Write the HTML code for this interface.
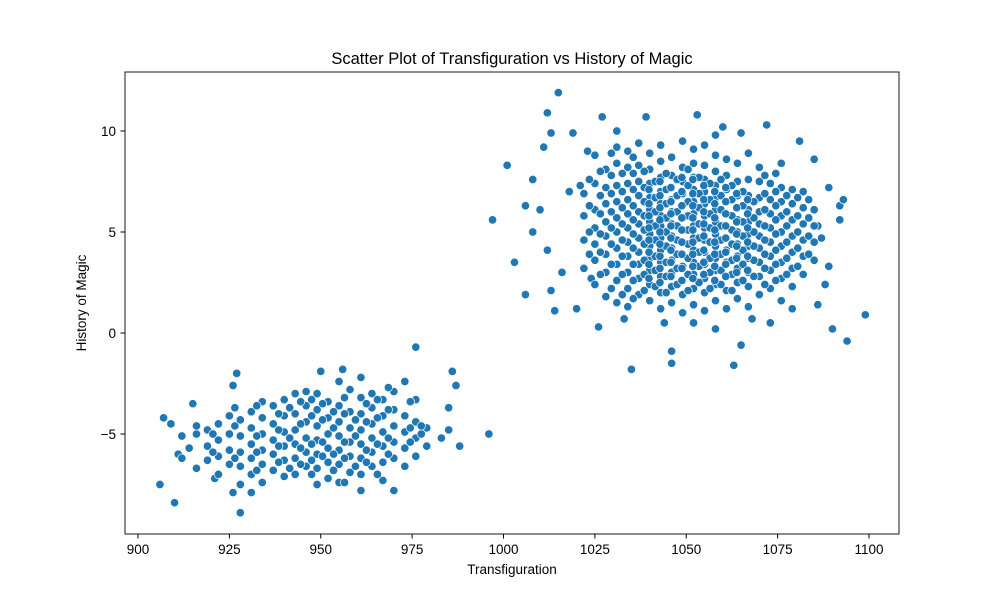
<!DOCTYPE html>
<html><head><meta charset="utf-8"><style>
body{margin:0;background:#fff;}
svg text{font-family:"Liberation Sans","DejaVu Sans",sans-serif;fill:#000;}
</style></head><body>
<svg id="chart" width="1000" height="600" xmlns="http://www.w3.org/2000/svg">
<rect width="1000" height="600" fill="#fff"/>
<text x="512" y="64" font-size="16.5" text-anchor="middle">Scatter Plot of Transfiguration vs History of Magic</text>
<g id="marks"></g>
<rect x="125" y="72" width="774" height="462" fill="none" stroke="#000" stroke-width="0.9"/>
<g id="xticks"></g>
<g id="yticks"></g>
<text x="512" y="574" font-size="13.5" text-anchor="middle">Transfiguration</text>
<text transform="translate(86,303) rotate(-90)" font-size="13.5" text-anchor="middle">History of Magic</text>
</svg>
<script>
const xTickValues=[900,925,950,975,1000,1025,1050,1075,1100];
const yTickValues=[-5,0,5,10];
const yTickLabels=["\u22125","0","5","10"];
const outlierPoints=[[1001,8.3],[997,5.6],[1003,3.5],[1006,1.9],[1010,6.1],[1012,10.9],[1013,9.9],[1015,11.9],[1011,9.2],[1019,9.9],[1020,1.2],[1026,0.3],[1027,10.7],[1035,-1.8],[1046,-0.9],[1046,-1.5],[1063,-1.6],[1065,-0.6],[1072,10.3],[1094,-0.4],[1099,0.9],[1090,0.2],[1089,7.2],[1092,6.3],[1093,6.6],[1085,8.6],[1081,9.5],[1053,10.8],[1039,10.7],[1031,10],[1060,10.2],[1058,9.8],[1065,9.9],[1013,2.1],[1014,1.1],[1024,2.7],[1033,0.7],[1044,0.5],[1052,0.5],[1058,0.2],[1068,0.7],[1073,0.5],[1079,1.2],[1086,1.4],[1088,2.4],[1089,3.3],[1087,4.7],[1086,5.3],[1092,5.6],[1008,5.0],[1012,4.1],[1016,3.0],[1018,7.0],[1021,7.3],[1008,7.6],[1023,9.0],[1006,6.3],
[906,-7.5],[907,-4.2],[910,-8.4],[909,-4.5],[911,-6],[928,-8.9],[927,-2],[926,-2.6],[976,-0.7],[986,-1.9],[987,-2.6],[996,-5],[988,-5.6],[983,-5.2],[956,-1.8],[950,-1.9],[961,-7.8],[970,-7.8],[915,-3.5],[921,-7.2],[926,-7.9],[931,-7.9]];
const upperColumnsX=[1022,1025,1028,1031,1034,1037,1040,1043,1046,1049,1052,1055,1058,1061,1064,1067,1070,1073,1076,1079,1082,1085,1038.5,1041.5,1044.5,1047.5,1050.5,1053.5,1056.5,1059.5,1062.5,1065.5,1068.5];
const upperColumnsY=[[3.2,4.6,5.8,6.9],[2.4,3.6,4.4,5.2,6.1,7.4,8.8],[1.8,3.0,3.9,4.8,5.5,6.4,7.2,8.1],[1.5,2.6,3.4,4.2,5.0,5.7,6.5,7.3,8.4,9.2],[1.3,2.2,3.0,3.8,4.5,5.2,5.9,6.6,7.4,8.2,9.0],[1.9,2.7,3.4,4.0,4.7,5.4,6.0,6.8,7.5,8.3,9.4],[1.6,2.4,3.1,3.7,4.3,4.9,5.5,6.1,6.7,7.4,8.1,8.9],[1.2,2.0,2.8,3.5,4.1,4.7,5.3,5.8,6.4,7.0,7.7,8.5,9.3],[1.5,2.3,3.0,3.6,4.2,4.8,5.4,6.0,6.6,7.2,7.8,8.7],[1.0,1.9,2.6,3.3,3.9,4.5,5.1,5.7,6.3,6.9,7.5,8.2,9.5],[1.4,2.2,2.9,3.5,4.1,4.7,5.3,5.9,6.5,7.1,7.7,8.4,9.1],[1.1,2.0,2.7,3.4,4.0,4.6,5.2,5.8,6.4,7.0,7.6,8.3,9.3],[1.6,2.4,3.1,3.7,4.3,4.9,5.5,6.1,6.7,7.3,8.0,8.8],[1.2,2.1,2.8,3.5,4.1,4.7,5.3,5.9,6.5,7.1,7.8,8.6],[1.7,2.5,3.2,3.8,4.4,5.0,5.6,6.2,6.8,7.5,8.4],[1.3,2.3,3.0,3.7,4.3,4.9,5.5,6.1,6.8,7.6,8.9],[1.9,2.8,3.5,4.2,4.8,5.4,6.0,6.7,7.5,8.2],[2.2,3.1,3.8,4.5,5.2,5.9,6.6,7.4],[1.6,2.7,3.5,4.3,5.0,5.8,6.5,7.2,8.4],[2.3,3.2,4.0,4.8,5.6,6.4,7.1],[2.9,3.8,4.6,5.4,6.2,7.0],[3.6,4.5,5.3,6.1],
[2.1,2.9,3.6,4.4,5.1,5.8,6.5,7.2,8.0],[2.3,3.1,3.8,4.6,5.3,6.0,6.7,7.5],[2.0,2.8,3.5,4.3,5.0,5.7,6.4,7.1,7.9],[2.4,3.2,3.9,4.6,5.3,6.0,6.8,7.6],[2.1,2.9,3.7,4.4,5.1,5.8,6.5,7.3,8.1],[2.5,3.3,4.0,4.7,5.4,6.2,6.9,7.7],[2.2,3.0,3.7,4.5,5.2,5.9,6.6,7.4],[2.4,3.1,3.9,4.6,5.3,6.1,6.8,7.6],[2.1,2.9,3.6,4.4,5.1,5.8,6.6,7.3],[2.6,3.4,4.1,4.8,5.5,6.3,7.0],[2.8,3.6,4.3,5.0,5.7,6.5]];
const upperExtraX=[1023.5,1026.5,1029.5,1032.5,1035.5,1071.5,1074.5,1077.5,1080.5,1083.5,1039.8,1042.8,1045.8,1048.8,1051.8,1054.8,1057.8,1060.8,1063.8,1066.8];
const upperExtraY=[[3.9,5.0,6.3,7.6],[2.9,4.0,4.9,5.9,6.8,8.0],[2.2,3.4,4.4,5.2,6.0,6.9,7.8,8.9],[1.9,2.9,3.8,4.6,5.4,6.2,7.0,7.9],[1.7,2.6,3.4,4.2,4.9,5.6,6.3,7.1,7.9,8.7],[2.4,3.2,3.9,4.6,5.3,6.1,6.9,7.8],[2.6,3.4,4.1,4.9,5.6,6.3,7.0,7.9],[2.9,3.7,4.5,5.3,6.0,6.8],[3.3,4.2,5.0,5.8,6.7],[3.9,4.8,5.7,6.6],
[2.7,3.4,4.0,4.6,5.2,5.8,6.4,7.1],[2.5,3.2,3.8,4.4,5.0,5.6,6.2,6.8,7.5],[2.8,3.5,4.1,4.7,5.3,5.9,6.5,7.2],[2.6,3.2,3.9,4.5,5.1,5.7,6.3,7.0,7.7],[2.7,3.3,3.9,4.5,5.1,5.7,6.3,6.9,7.6],[2.9,3.5,4.1,4.8,5.4,6.0,6.6,7.3],[2.6,3.3,3.9,4.5,5.1,5.7,6.4,7.0],[2.8,3.4,4.0,4.7,5.3,5.9,6.5,7.2],[3.0,3.7,4.3,4.9,5.5,6.2,6.9],[3.1,3.8,4.5,5.2,5.9,6.6]];
const lowerColumnsX=[912,916,919,922,925,928,931,934,937,940,943,946,949,952,955,958,961,964,967,970,973,976,979,985];
const lowerColumnsY=[[-6.2,-5.1],[-6.7,-5.0,-4.6],[-6.3,-5.6,-4.8],[-7.0,-6.1,-5.3,-4.5],[-6.5,-5.8,-5.0,-4.1],[-7.5,-6.6,-5.9,-5.1,-4.3],[-7.0,-6.2,-5.5,-4.7,-3.9],[-7.4,-6.5,-5.8,-5.0,-4.2,-3.4],[-6.8,-6.0,-5.3,-4.5,-3.6],[-7.1,-6.3,-5.6,-4.9,-4.1,-3.3],[-7.0,-6.2,-5.5,-4.8,-4.0,-3.0],[-6.6,-5.9,-5.2,-4.4,-3.6,-2.9],[-7.5,-6.7,-6.0,-5.3,-4.6,-3.8,-3.0],[-7.2,-6.4,-5.7,-5.0,-4.2,-3.4],[-7.4,-6.5,-5.8,-5.1,-4.4,-3.6,-2.4],[-6.9,-6.1,-5.4,-4.7,-3.9,-2.8],[-7.0,-6.2,-5.5,-4.8,-4.0,-3.2,-2.2],[-6.6,-5.9,-5.2,-4.5,-3.7,-3.0],[-7.3,-6.4,-5.6,-4.9,-4.1,-3.3],[-6.2,-5.4,-4.6,-3.8,-2.9],[-6.6,-5.7,-4.9,-4.1,-2.4],[-6.1,-5.2,-4.4,-3.3],[-5.6,-4.7],[-4.8,-3.7]];
const lowerExtraX=[914,920.5,926.5,932.5,938.5,941.5,944.5,947.5,950.5,953.5,956.5,959.5,962.5,965.5,968.5,974.5,977.5];
const lowerExtraY=[[-5.7],[-5.9,-5.0],[-6.2,-4.6,-3.7],[-6.8,-5.9,-5.1,-3.6],[-6.4,-5.6,-4.8,-4.0],[-6.7,-5.2,-3.7],[-6.5,-5.7,-4.5,-3.4],[-7.0,-6.3,-5.5,-4.1,-3.3],[-6.1,-5.4,-4.3,-3.5],[-6.8,-6.0,-4.7,-3.9],[-7.4,-6.2,-5.4,-4.0,-3.2],[-6.6,-5.1,-4.3],[-6.4,-5.8,-4.4,-3.5],[-7.0,-5.5,-4.2,-3.3],[-6.0,-5.2,-3.8,-2.7],[-5.4,-4.7,-3.4],[-5.0,-4.6]];

const NS="http://www.w3.org/2000/svg";
function xScale(v){return 138+(v-900)*(731/200);}
function yScale(v){return 333-v*20.2;}
const marks=document.getElementById('marks');
function dot(x,y){
  const c=document.createElementNS(NS,'circle');
  c.setAttribute('cx',xScale(x));c.setAttribute('cy',yScale(y));
  c.setAttribute('r',4.2);c.setAttribute('fill','#1f77b4');
  c.setAttribute('stroke','#fff');c.setAttribute('stroke-width','0.7');
  
  
  marks.appendChild(c);
}
outlierPoints.forEach(p=>dot(p[0],p[1]));
upperColumnsX.forEach((x,i)=>upperColumnsY[i].forEach(y=>dot(x,y)));
upperExtraX.forEach((x,i)=>upperExtraY[i].forEach(y=>dot(x,y)));
lowerColumnsX.forEach((x,i)=>lowerColumnsY[i].forEach(y=>dot(x,y)));
lowerExtraX.forEach((x,i)=>lowerExtraY[i].forEach(y=>dot(x,y)));
const xt=document.getElementById('xticks');
xTickValues.forEach(v=>{
  const l=document.createElementNS(NS,'line');
  l.setAttribute('x1',xScale(v));l.setAttribute('x2',xScale(v));
  l.setAttribute('y1',534);l.setAttribute('y2',538.5);l.setAttribute('stroke','#000');
  
  
  xt.appendChild(l);
  const t=document.createElementNS(NS,'text');
  t.setAttribute('x',xScale(v));t.setAttribute('y',554);
  t.setAttribute('font-size','13.5');t.setAttribute('text-anchor','middle');
  t.textContent=v;
  
  
  xt.appendChild(t);
});
const yt=document.getElementById('yticks');
yTickValues.forEach((v,i)=>{
  const l=document.createElementNS(NS,'line');
  l.setAttribute('x1',120.5);l.setAttribute('x2',125);
  l.setAttribute('y1',yScale(v));l.setAttribute('y2',yScale(v));l.setAttribute('stroke','#000');
  
  
  yt.appendChild(l);
  const t=document.createElementNS(NS,'text');
  t.setAttribute('x',116);t.setAttribute('y',yScale(v)+5);
  t.setAttribute('font-size','13.5');t.setAttribute('text-anchor','end');
  t.textContent=yTickLabels[i];
  
  
  yt.appendChild(t);
});
</script>
</body></html>
